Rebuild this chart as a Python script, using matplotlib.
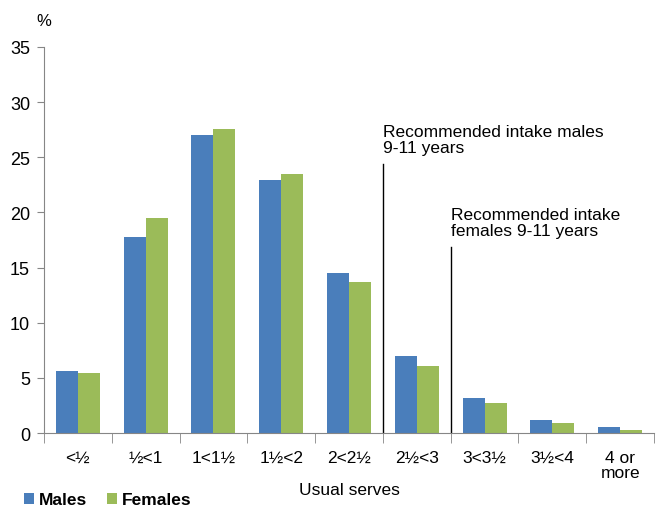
import matplotlib.pyplot as plt
import numpy as np

plt.rcParams['font.family'] = ['Liberation Sans', 'DejaVu Sans']

categories = ['<½', '½<1', '1<1½', '1½<2', '2<2½', '2½<3', '3<3½', '3½<4', '4 or\nmore']
males = [5.6, 17.8, 27.0, 22.9, 14.5, 7.0, 3.2, 1.2, 0.5]
females = [5.4, 19.5, 27.6, 23.5, 13.7, 6.1, 2.7, 0.9, 0.3]

# recommended intake markers: (x position between categories, line top, label)
rec_lines = [(4.5, 24.4, 'Recommended intake males\n9-11 years'),
             (5.5, 16.9, 'Recommended intake\nfemales 9-11 years')]

blue = '#4A7EBB'
green = '#9BBB59'
grey = '#868686'

fig = plt.figure(figsize=(6.56, 5.10), dpi=100)
ax = fig.add_axes([0.067, 0.149, 0.930, 0.757])

x = np.arange(len(categories))
w = 0.325
ax.bar(x - w / 2, males, w, color=blue, label='Males')
ax.bar(x + w / 2, females, w, color=green, label='Females')

for xpos, top, label in rec_lines:
    ax.plot([xpos, xpos], [0, top], color='black', lw=1)
    ax.text(xpos, top + 0.8, label, fontsize=12.5, va='bottom', ha='left',
            linespacing=1.05)

ax.set_xlim(-0.5, len(categories) - 0.5)
ax.set_ylim(0, 35)
ax.set_yticks(range(0, 36, 5))
ax.tick_params(axis='y', labelsize=13, length=5, color=grey, direction='out', pad=5)

ax.set_xticks(x)
ax.set_xticklabels(categories, fontsize=12.5, linespacing=1.0)
ax.tick_params(axis='x', length=0, pad=12)
ax.set_xticks(np.arange(-0.5, len(categories), 1), minor=True)
ax.tick_params(axis='x', which='minor', length=7, color=grey, direction='out')

for s in ['top', 'right']:
    ax.spines[s].set_visible(False)
for s in ['left', 'bottom']:
    ax.spines[s].set_color(grey)

ax.set_xlabel('Usual serves', fontsize=12.5, labelpad=2)
fig.text(0.056, 0.957, '%', fontsize=12, ha='left', va='center')

fig.legend(loc='center left', bbox_to_anchor=(0.020, 0.018), ncol=2, frameon=False,
           prop={'size': 12.5, 'weight': 'bold'}, handlelength=0.6, handleheight=0.6,
           handletextpad=0.3, columnspacing=1.1, borderpad=0.1)

fig.savefig('out.png', dpi=100)
